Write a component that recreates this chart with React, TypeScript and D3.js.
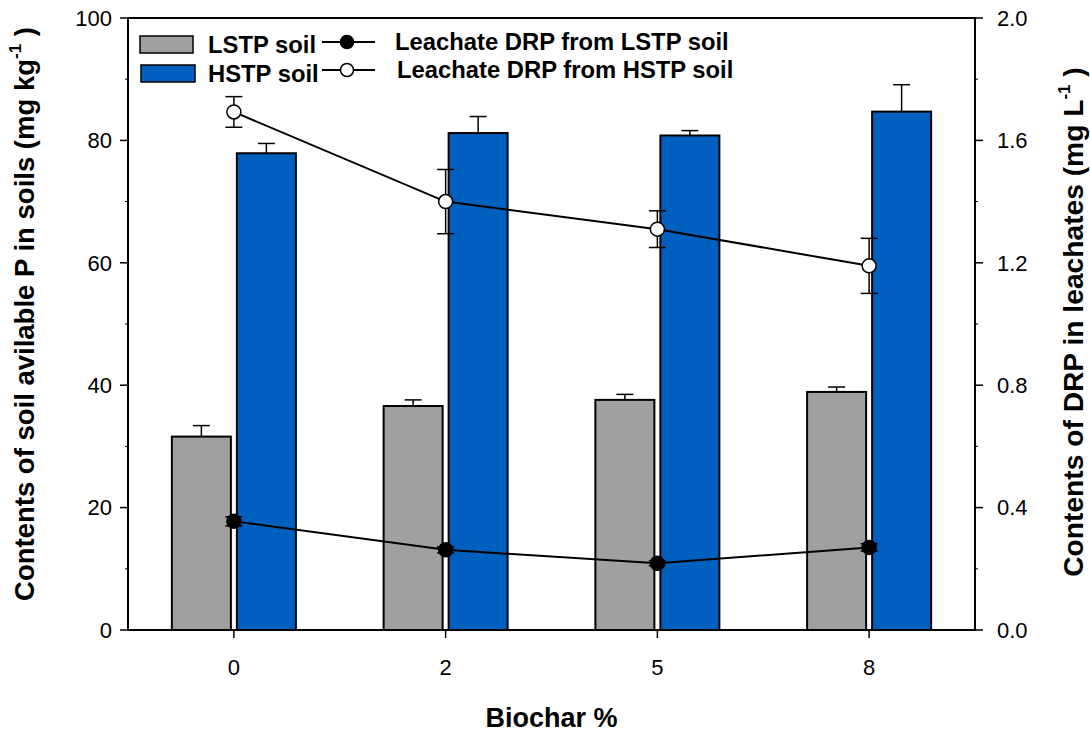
import * as d3 from "d3";

// biochar levels (categories on the x axis)
const biochar = ["0", "2", "5", "8"];

// soil available P (mg/kg), bars on the left axis
const lstpSoil = [31.6, 36.6, 37.6, 38.9];
const lstpSoilErr = [1.8, 1.0, 0.9, 0.8];
const hstpSoil = [77.9, 81.2, 80.8, 84.7];
const hstpSoilErr = [1.6, 2.7, 0.8, 4.4];

// leachate DRP (mg/L), lines on the right axis
const lstpDrp = [0.355, 0.262, 0.218, 0.27];
const lstpDrpErr = [0.015, 0.01, 0.008, 0.012];
const hstpDrp = [1.693, 1.4, 1.31, 1.19];
const hstpDrpErr = [0.05, 0.105, 0.06, 0.09];

const leftTicks = [0, 20, 40, 60, 80, 100];
const rightTicks = [0, 0.4, 0.8, 1.2, 1.6, 2.0];

const W = 1090;
const H = 734;
const m = { left: 128, right: 975, top: 18, bottom: 630 };
const font = "'Liberation Sans', Arial, sans-serif";

export default function App() {
  const x = d3.scaleBand().domain(biochar).range([m.left, m.right]);
  const yL = d3.scaleLinear().domain([0, 100]).range([m.bottom, m.top]);
  const yR = d3.scaleLinear().domain([0, 2]).range([m.bottom, m.top]);

  const barW = 59;
  const gap = 3;
  const cap = 8.5;
  const cx = (c: string) => (x(c) as number) + x.bandwidth() / 2;

  const lineL = d3
    .line<number>()
    .x((_, i) => cx(biochar[i]))
    .y((d) => yR(d));

  const leftMinor = d3.range(10, 100, 20);
  const rightMinor = d3.range(0.2, 2, 0.4);

  const bars = (vals: number[], errs: number[], side: number, fill: string) =>
    vals.map((v, i) => {
      const bx = side < 0 ? cx(biochar[i]) - gap - barW : cx(biochar[i]) + gap;
      const mid = bx + barW / 2;
      return (
        <g key={fill + i}>
          <rect x={bx} y={yL(v)} width={barW} height={yL(0) - yL(v)} fill={fill} stroke="#000" strokeWidth={2} />
          <line x1={mid} x2={mid} y1={yL(v)} y2={yL(v + errs[i])} stroke="#000" strokeWidth={1.5} />
          <line x1={mid - cap} x2={mid + cap} y1={yL(v + errs[i])} y2={yL(v + errs[i])} stroke="#000" strokeWidth={1.5} />
        </g>
      );
    });

  const series = (vals: number[], errs: number[], fill: string) => (
    <g>
      <path d={lineL(vals) as string} fill="none" stroke="#000" strokeWidth={2} />
      {vals.map((v, i) => {
        const px = cx(biochar[i]);
        return (
          <g key={i}>
            <line x1={px} x2={px} y1={yR(v - errs[i])} y2={yR(v + errs[i])} stroke="#000" strokeWidth={1.5} />
            <line x1={px - cap} x2={px + cap} y1={yR(v + errs[i])} y2={yR(v + errs[i])} stroke="#000" strokeWidth={1.5} />
            <line x1={px - cap} x2={px + cap} y1={yR(v - errs[i])} y2={yR(v - errs[i])} stroke="#000" strokeWidth={1.5} />
            <circle cx={px} cy={yR(v)} r={7} fill={fill} stroke="#000" strokeWidth={1.5} />
          </g>
        );
      })}
    </g>
  );

  return (
    <svg width={W} height={H} style={{ position: "absolute", left: 0, top: 0, background: "#fff" }} fontFamily={font}>
      {bars(lstpSoil, lstpSoilErr, -1, "#a0a0a0")}
      {bars(hstpSoil, hstpSoilErr, 1, "#0060c0")}
      {series(lstpDrp, lstpDrpErr, "#000")}
      {series(hstpDrp, hstpDrpErr, "#fff")}

      {/* frame */}
      <rect x={m.left} y={m.top} width={m.right - m.left} height={m.bottom - m.top} fill="none" stroke="#000" strokeWidth={2} />

      {/* left axis */}
      {leftTicks.map((t) => (
        <g key={"l" + t}>
          <line x1={m.left - 8} x2={m.left} y1={yL(t)} y2={yL(t)} stroke="#000" strokeWidth={1.5} />
          <text x={m.left - 16} y={yL(t)} dy="0.35em" textAnchor="end" fontSize={22}>
            {t}
          </text>
        </g>
      ))}
      {leftMinor.map((t) => (
        <line key={"lm" + t} x1={m.left - 3} x2={m.left} y1={yL(t)} y2={yL(t)} stroke="#000" strokeWidth={1} />
      ))}

      {/* right axis */}
      {rightTicks.map((t) => (
        <g key={"r" + t}>
          <line x1={m.right} x2={m.right + 8} y1={yR(t)} y2={yR(t)} stroke="#000" strokeWidth={1.5} />
          <text x={m.right + 22} y={yR(t)} dy="0.35em" textAnchor="start" fontSize={22}>
            {d3.format(".1f")(t)}
          </text>
        </g>
      ))}
      {rightMinor.map((t) => (
        <line key={"rm" + t} x1={m.right} x2={m.right + 3} y1={yR(t)} y2={yR(t)} stroke="#000" strokeWidth={1} />
      ))}

      {/* x axis */}
      {biochar.map((c) => (
        <g key={"x" + c}>
          <line x1={cx(c)} x2={cx(c)} y1={m.bottom} y2={m.bottom + 8} stroke="#000" strokeWidth={1.5} />
          <text x={cx(c)} y={m.bottom + 37} dy="0.35em" textAnchor="middle" fontSize={22}>
            {c}
          </text>
        </g>
      ))}

      {/* axis titles */}
      <text x={(m.left + m.right) / 2 + 0} y={727} textAnchor="middle" fontSize={27} fontWeight="bold">
        Biochar %
      </text>
      <text transform={`translate(34,${314}) rotate(-90)`} textAnchor="middle" fontSize={27.5} fontWeight="bold">
        Contents of soil avilable P in soils (mg kg
        <tspan fontSize={17} dy={-13}>-1</tspan>
        <tspan dy={13}> )</tspan>
      </text>
      <text transform={`translate(1083,${322}) rotate(-90)`} textAnchor="middle" fontSize={28.2} fontWeight="bold">
        Contents of DRP in leachates (mg L
        <tspan fontSize={17} dy={-13}>-1</tspan>
        <tspan dy={13}> )</tspan>
      </text>

      {/* legend */}
      <g fontSize={23.8} fontWeight="bold">
        <rect x={140} y={36} width={53} height={17} fill="#a0a0a0" stroke="#000" strokeWidth={1.5} />
        <text x={208} y={53}>LSTP soil</text>
        <rect x={141} y={65} width={54} height={17} fill="#0060c0" stroke="#000" strokeWidth={1.5} />
        <text x={208} y={82}>HSTP soil</text>

        <line x1={322} x2={375} y1={42} y2={42} stroke="#000" strokeWidth={2} />
        <circle cx={347} cy={42} r={6.5} fill="#000" stroke="#000" strokeWidth={1.5} />
        <text x={395} y={50}>Leachate DRP from LSTP soil</text>
        <line x1={322} x2={375} y1={70} y2={70} stroke="#000" strokeWidth={2} />
        <circle cx={347} cy={70} r={6.5} fill="#fff" stroke="#000" strokeWidth={1.5} />
        <text x={397} y={78}>Leachate DRP from HSTP soil</text>
      </g>
    </svg>
  );
}
